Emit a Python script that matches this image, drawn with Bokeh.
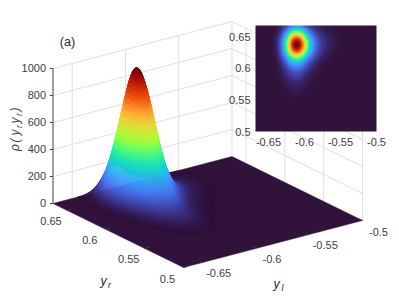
import numpy as np
from bokeh.plotting import figure
from bokeh.models import Range1d, LinearColorMapper, ColumnDataSource
from bokeh.palettes import Turbo256
from bokeh.core.properties import value
from bokeh.embed import file_html
from bokeh.resources import INLINE

# ---------- data ----------
yl_limits = [-0.668, -0.5]
yr_limits = [0.5, 0.668]
z_limits = [0, 1000]
yl_ticks = [-0.65, -0.6, -0.55, -0.5]
yl_labels = ["-0.65", "-0.6", "-0.55", "-0.5"]
yr_ticks = [0.5, 0.55, 0.6, 0.65]
yr_labels = ["0.5", "0.55", "0.6", "0.65"]
z_ticks = [0, 200, 400, 600, 800, 1000]
z_labels = ["0", "200", "400", "600", "800", "1000"]
# density estimated by eye on a 0.01 lattice (zero elsewhere)
grid_yl = [-0.6535, -0.6435, -0.6335, -0.6235, -0.6135, -0.6035, -0.5935, -0.5835, -0.5735, -0.5635, -0.5535, -0.5435]
grid_yr = [0.672, 0.662, 0.652, 0.642, 0.632, 0.622, 0.612, 0.602, 0.592, 0.582, 0.572, 0.562, 0.552, 0.542]
density = [
    [0, 1, 10, 49, 93, 77, 33, 14, 6, 3, 1, 0],
    [0, 3, 34, 160, 301, 249, 108, 40, 17, 7, 3, 1],
    [0, 6, 71, 334, 630, 520, 225, 80, 33, 13, 6, 1],
    [0, 9, 101, 476, 915, 755, 321, 110, 46, 18, 8, 2],
    [0, 8, 98, 462, 885, 730, 311, 106, 42, 16, 6, 1],
    [0, 6, 70, 320, 593, 490, 212, 75, 27, 10, 3, 0],
    [0, 3, 40, 170, 300, 240, 105, 38, 12, 4, 1, 0],
    [0, 2, 22, 90, 155, 125, 52, 16, 5, 1, 0, 0],
    [0, 1, 12, 48, 78, 62, 24, 7, 2, 0, 0, 0],
    [0, 0, 6, 26, 42, 33, 12, 3, 1, 0, 0, 0],
    [0, 0, 3, 12, 20, 15, 5, 1, 0, 0, 0, 0],
    [0, 0, 1, 5, 9, 7, 2, 0, 0, 0, 0, 0],
    [0, 0, 0, 2, 3, 2, 1, 0, 0, 0, 0, 0],
    [0, 0, 0, 0, 0, 0, 0, 0, 0, 0, 0, 0],
]
color_max = 950.0

# ---------- view ----------
LEFT = (52.5, 203.0)    # yl min, yr max, z=0
FRONT = (183.0, 267.0)  # yl min, yr min, z=0
RIGHT = (362.0, 220.0)  # yl max, yr min, z=0
Z_PX = 135.0            # px per full z range
INSET = (255.0, 376.0, 25.0, 131.0)  # left, right, top, bottom of the inset on the page
PAGE = (0.0, 399.0, 0.0, 300.0)
GRID = "#dfdfdf"
INK = "#404040"
FONT = "Liberation Sans"
TICK_SIZE = "11px"


def proj(x, y, z):
    u = (np.asarray(x, float) - yl_limits[0]) / (yl_limits[1] - yl_limits[0])
    v = (np.asarray(y, float) - yr_limits[0]) / (yr_limits[1] - yr_limits[0])
    w = np.asarray(z, float) / z_limits[1]
    px = FRONT[0] + u * (RIGHT[0] - FRONT[0]) + v * (LEFT[0] - FRONT[0])
    py = FRONT[1] + u * (RIGHT[1] - FRONT[1]) + v * (LEFT[1] - FRONT[1]) - w * Z_PX
    return px, py


def cubic_upsample(a, n):
    """Catmull-Rom refinement of the lattice along axis 0."""
    a = np.asarray(a, float)
    p = np.concatenate([a[:1], a, a[-1:]], axis=0)
    out = []
    t = (np.arange(n) / n).reshape((-1,) + (1,) * (a.ndim - 1))
    for i in range(1, len(p) - 2):
        p0, p1, p2, p3 = p[i - 1], p[i], p[i + 1], p[i + 2]
        out.append(0.5 * (2 * p1 + (p2 - p0) * t + (2 * p0 - 5 * p1 + 4 * p2 - p3) * t ** 2
                          + (3 * p1 - p0 - 3 * p2 + p3) * t ** 3))
    out.append(a[-1:])
    return np.concatenate(out, axis=0)


def refine(n):
    # refined in log space, so that the low tails stay smooth and positive
    s = cubic_upsample(np.log1p(np.asarray(density, float)), n)
    s = cubic_upsample(s.T, n).T
    gx = cubic_upsample(np.asarray(grid_yl), n)
    gy = cubic_upsample(np.asarray(grid_yr), n)
    return gx, gy, np.clip(np.expm1(s), 0, None)


def turbo(val):
    return Turbo256[int(np.clip(val / color_max * 255, 0, 255))]


p = figure(width=399, height=300, x_range=Range1d(PAGE[0], PAGE[1]), y_range=Range1d(PAGE[3], PAGE[2]),
           output_backend="svg", toolbar_location=None, min_border=0,
           x_axis_location=None, y_axis_location=None, outline_line_color=None)
p.grid.visible = False

# scales of the inset, spanning the whole frame so that its limits fall on the inset box
xa, xb = yl_limits
ya, yb = yr_limits
sx = (xb - xa) / (INSET[1] - INSET[0])
sy = (yb - ya) / (INSET[3] - INSET[2])
p.extra_x_ranges["inset"] = Range1d(xa - (INSET[0] - PAGE[0]) * sx, xb + (PAGE[1] - INSET[1]) * sx)
p.extra_y_ranges["inset"] = Range1d(ya - (PAGE[3] - INSET[3]) * sy, yb + (INSET[2] - PAGE[2]) * sy)


def seg(x0, y0, z0, x1, y1, z1, color=GRID, width=1.0):
    a, b = proj(x0, y0, z0), proj(x1, y1, z1)
    p.line([float(a[0]), float(b[0])], [float(a[1]), float(b[1])], line_color=color, line_width=width)


zt = z_limits[1]
# walls
for z in z_ticks[1:]:
    seg(xa, yb, z, xb, yb, z)
    seg(xb, yb, z, xb, ya, z)
for x in yl_ticks:
    seg(x, yb, 0, x, yb, zt)
for y in yr_ticks:
    seg(xb, y, 0, xb, y, zt)

# floor
fx, fy = proj([xa, xa, xb, xb], [yb, ya, ya, yb], [0, 0, 0, 0])
p.patch(list(map(float, fx)), list(map(float, fy)), fill_color=Turbo256[0], line_color=Turbo256[0], line_width=0.5)

# surface, far to near
gx, gy, S = refine(12)
xs, ys, cols = [], [], []
mask_y = gy <= yb
gy2, S2 = gy[mask_y], S[mask_y]
for j in range(len(gx) - 2, -1, -1):
    for i in range(0, len(gy2) - 1):
        q = S2[i:i + 2, j:j + 2]
        if q.max() < 1.5:
            continue
        qx = [gx[j], gx[j + 1], gx[j + 1], gx[j]]
        qy = [gy2[i], gy2[i], gy2[i + 1], gy2[i + 1]]
        qz = [q[0, 0], q[0, 1], q[1, 1], q[1, 0]]
        a, b = proj(qx, qy, qz)
        xs.append([round(float(t), 2) for t in a])
        ys.append([round(float(t), 2) for t in b])
        cols.append(turbo(q.mean()))
p.patches("xs", "ys", source=ColumnDataSource(dict(xs=xs, ys=ys, c=cols)),
          fill_color="c", line_color="c", line_width=0.4)

# z axis
seg(xa, yb, 0, xa, yb, zt, color="#8a8a8a", width=1.6)
tx, ty, lab = [], [], []
for z, l in zip(z_ticks, z_labels):
    a, b = proj(xa, yb, z)
    p.line([float(a) - 3, float(a)], [float(b), float(b)], line_color=INK, line_width=1)
    tx.append(float(a) - 7); ty.append(float(b) - 1); lab.append(l)
p.text(tx, ty, text=lab, text_font=value(FONT), text_font_size=TICK_SIZE, text_color=INK,
       text_align="right", text_baseline="middle")

# floor edge ticks and labels
tx, ty, lab = [], [], []
for y, l in zip(yr_ticks, yr_labels):
    a, b = proj(xa, y, 0)
    c, d = proj(xa + 0.004, y, 0)
    p.line([float(a), float(c)], [float(b), float(d)], line_color=INK, line_width=1)
    tx.append(float(a) - 16); ty.append(float(b) + 11); lab.append(l)
p.text(tx, ty, text=lab, text_font=value(FONT), text_font_size=TICK_SIZE, text_color=INK,
       text_align="center", text_baseline="middle")
tx, ty, lab = [], [], []
for x, l in zip(yl_ticks, yl_labels):
    a, b = proj(x, ya, 0)
    c, d = proj(x, ya + 0.004, 0)
    p.line([float(a), float(c)], [float(b), float(d)], line_color=INK, line_width=1)
    tx.append(float(a) + 16); ty.append(float(b) + 11); lab.append(l)
p.text(tx, ty, text=lab, text_font=value(FONT), text_font_size=TICK_SIZE, text_color=INK,
       text_align="center", text_baseline="middle")

# titles
p.text([67], [41], text=["(a)"], text_font=value(FONT), text_font_size="12.5px", text_color="#262626",
       text_align="center", text_baseline="middle")
for tx0, ty0, main, sub in [(103, 280, "y", "r"), (276, 283, "y", "l")]:
    p.text([tx0], [ty0], text=[main], text_font=value(FONT), text_font_size="12.5px", text_font_style="italic",
           text_color="#262626", text_align="center", text_baseline="middle")
    p.text([tx0 + 6], [ty0 + 4], text=[sub], text_font=value(FONT), text_font_size="9px", text_font_style="italic",
           text_color="#262626", text_align="center", text_baseline="middle")
# rotated z label, built from pieces
for txt, ly, lx, size in [("\u03c1", 147, 14, "12px"), ("(", 140, 14, "12px"), ("y", 132, 14, "12px"), ("r", 126, 18, "8.5px"),
                          ("y", 120, 14, "12px"), ("r", 114, 18, "8.5px"), (")", 109, 14, "12px")]:
    p.text([lx], [ly], text=[txt], text_font=value(FONT), text_font_size=size, text_font_style="italic",
           text_color=INK, angle=np.pi / 2, text_align="center", text_baseline="middle")

# inset
ix, iy, IS = refine(16)
lat_x = np.linspace(xa, xb, 242)
lat_y = np.linspace(ya, yb, 212)
ord_y = np.argsort(iy)
iy_s, IS_s = iy[ord_y], IS[ord_y]
jx = np.searchsorted(ix, lat_x)
jy = np.searchsorted(iy_s, lat_y)
valid_x = jx < len(ix)
valid_y = jy < len(iy_s)
img = np.zeros((len(lat_y), len(lat_x)))
img[np.ix_(valid_y, valid_x)] = IS_s[np.ix_(jy[valid_y], jx[valid_x])]

p.image(image=[img], x=xa, y=ya, dw=xb - xa, dh=yb - ya, x_range_name="inset", y_range_name="inset",
        color_mapper=LinearColorMapper(palette=Turbo256, low=0, high=color_max))
p.text(yl_ticks, [ya] * 4, text=yl_labels, x_range_name="inset", y_range_name="inset", y_offset=6,
       text_font=value(FONT), text_font_size=TICK_SIZE, text_color=INK, text_align="center", text_baseline="top")
p.text([xa] * 4, yr_ticks, text=yr_labels, x_range_name="inset", y_range_name="inset", x_offset=-5,
       text_font=value(FONT), text_font_size=TICK_SIZE, text_color=INK, text_align="right", text_baseline="middle")

open("out.html", "w").write(file_html(p, INLINE))
